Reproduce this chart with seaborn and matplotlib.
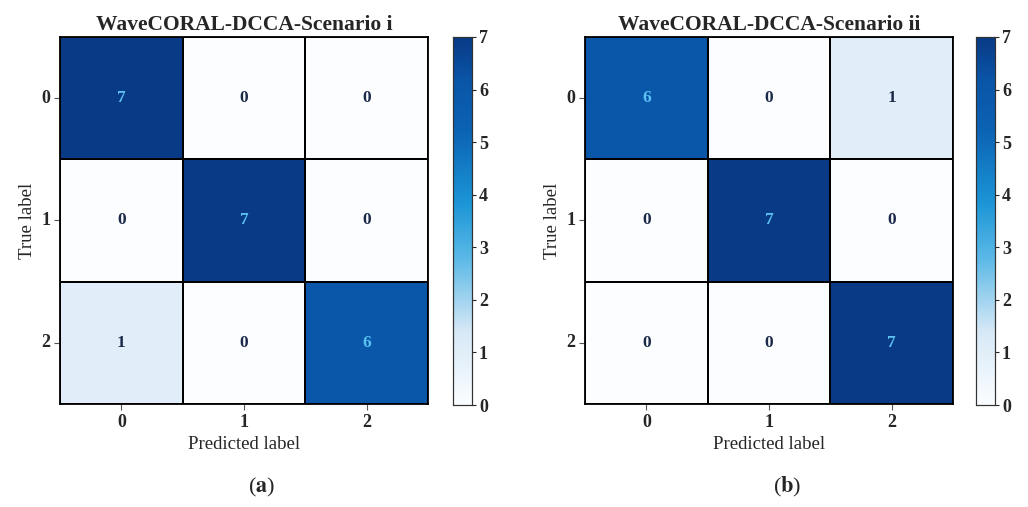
import numpy as np
import matplotlib
matplotlib.use("Agg")
import matplotlib.pyplot as plt
from matplotlib.colors import LinearSegmentedColormap
import seaborn as sns

# confusion matrices
labels = ["0", "1", "2"]
cm_i = [[7, 0, 0],
        [0, 7, 0],
        [1, 0, 6]]
cm_ii = [[6, 0, 1],
         [0, 7, 0],
         [0, 0, 7]]
titles = ["WaveCORAL-DCCA-Scenario i", "WaveCORAL-DCCA-Scenario ii"]
captions = ["a", "b"]

# the published colours are more saturated than plain "Blues"
cmap = LinearSegmentedColormap.from_list(
    "blues_sat",
    [(0.0, "#fbfdff"), (0.2, "#d6e8f6"), (0.4, "#5ab8e6"),
     (0.55, "#1b95d6"), (0.75, "#0b62b3"), (0.88, "#0a55a8"), (1.0, "#083a86")])

sns.set_style("white")
plt.rcParams["font.family"] = ["Liberation Serif", "DejaVu Serif"]
plt.rcParams["mathtext.fontset"] = "stix"

W, H = 1028, 507
fig = plt.figure(figsize=(W / 100, H / 100), dpi=100)

panels = [(60, 37, 368, 367, 453), (585, 37, 368, 367, 976)]

for (x0, y0, w, h, cx), cm, title, cap in zip(panels, [cm_i, cm_ii], titles, captions):
    ax = fig.add_axes([x0 / W, 1 - (y0 + h) / H, w / W, h / H])
    cax = fig.add_axes([cx / W, 1 - (y0 + h + 1) / H, 19 / W, (h + 1) / H])
    data = np.array(cm)
    sns.heatmap(data, ax=ax, cbar_ax=cax, cmap=cmap, vmin=0, vmax=7,
                linewidths=1.3, linecolor="black",
                xticklabels=labels, yticklabels=labels, annot=False)
    for i in range(3):
        for j in range(3):
            v = data[i, j]
            color = "#5cc0f0" if v >= 4 else "#1c2a4a"
            ax.text(j + 0.5, i + 0.5, str(v), ha="center", va="center",
                    fontsize=12.5, fontweight="bold", color=color)
    for s in ax.spines.values():
        s.set_visible(True)
        s.set_color("black")
        s.set_linewidth(1.3)
    ax.set_title(title, fontsize=15.5, fontweight="bold", pad=5)
    ax.set_xlabel("Predicted label", fontsize=13.5, labelpad=4)
    ax.set_ylabel("True label", fontsize=13.5, labelpad=4)
    ax.tick_params(axis="both", length=4, width=0.8, color="#555555",
                   labelsize=13, left=True, bottom=True, pad=3)
    for t in ax.get_xticklabels() + ax.get_yticklabels():
        t.set_fontweight("bold")
    ax.set_yticklabels(labels, rotation=0)
    cax.tick_params(length=3, width=0.8, labelsize=13, right=True, pad=2)
    for t in cax.get_yticklabels():
        t.set_fontweight("bold")
    for s in cax.spines.values():
        s.set_visible(True)
        s.set_color("#333333")
        s.set_linewidth(0.8)
    fig.text((x0 + w / 2 + 18) / W, 1 - 487 / H, r"($\mathbf{%s}$)" % cap,
             ha="center", va="center", fontsize=16)

fig.savefig("out.png", dpi=100, facecolor="white")
